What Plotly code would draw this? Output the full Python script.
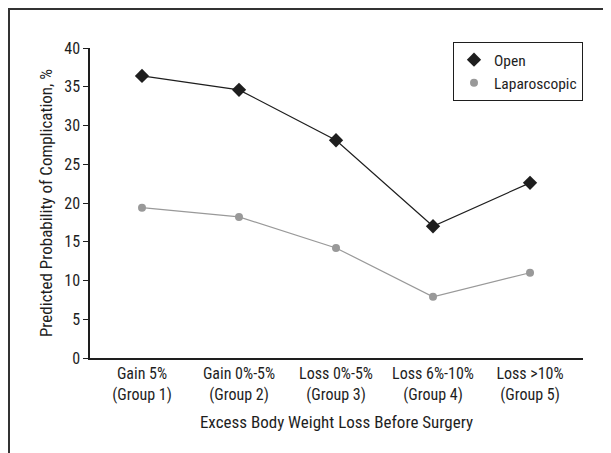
import plotly.graph_objects as go

categories = ["Gain 5%<br>(Group 1)", "Gain 0%-5%<br>(Group 2)", "Loss 0%-5%<br>(Group 3)",
              "Loss 6%-10%<br>(Group 4)", "Loss >10%<br>(Group 5)"]
open_vals = [36.4, 34.6, 28.1, 17.0, 22.6]
lap_vals = [19.4, 18.2, 14.2, 7.9, 11.0]
y_ticks = [0, 5, 10, 15, 20, 25, 30, 35, 40]

FONT = "Liberation Sans Narrow, Arial Narrow, Roboto Condensed, Liberation Sans, Arial, sans-serif"
INK = "#1e1e1e"
GRAY = "#999999"
xi = list(range(len(categories)))

fig = go.Figure()
fig.add_trace(go.Scatter(
    x=xi, y=open_vals, name="Open", mode="lines+markers", showlegend=False,
    line=dict(color=INK, width=1.2),
    marker=dict(symbol="diamond", size=11, color=INK),
))
fig.add_trace(go.Scatter(
    x=xi, y=lap_vals, name="Laparoscopic", mode="lines+markers", showlegend=False,
    line=dict(color=GRAY, width=1.2),
    marker=dict(symbol="circle", size=8, color=GRAY),
))
# legend entries: markers only
fig.add_trace(go.Scatter(
    x=[None], y=[None], name="Open", mode="markers",
    marker=dict(symbol="diamond", size=11, color=INK),
))
fig.add_trace(go.Scatter(
    x=[None], y=[None], name="Laparoscopic", mode="markers",
    marker=dict(symbol="circle", size=8, color=GRAY),
))

fig.update_layout(
    width=603, height=445,
    margin=dict(l=82, r=28, t=40, b=95),
    paper_bgcolor="white", plot_bgcolor="white",
    font=dict(family=FONT, size=16, color=INK),
    showlegend=True,
    legend=dict(
        x=1.0, xanchor="right", y=1.019, yanchor="top",
        bordercolor=INK, borderwidth=1, bgcolor="white",
        font=dict(family=FONT, size=15.5, color=INK),
        itemwidth=30, tracegroupgap=0,
    ),
    xaxis=dict(
        range=[-0.536, 4.546], tickmode="array", tickvals=xi, ticktext=categories,
        showgrid=False, zeroline=False, showline=True, linecolor=INK, linewidth=1.5,
        ticks="", tickfont=dict(size=16),
        title=dict(text="Excess Body Weight Loss Before Surgery", font=dict(size=17), standoff=13),
    ),
    yaxis=dict(
        range=[0, 40], tickmode="array", tickvals=y_ticks,
        showgrid=False, zeroline=False, showline=True, linecolor=INK, linewidth=1.5,
        ticks="outside", ticklen=5, tickcolor=INK, tickwidth=1.2,
        tickfont=dict(size=16),
        title=dict(text="Predicted Probability of Complication, %", font=dict(size=17), standoff=7),
    ),
    shapes=[dict(
        type="rect", xref="paper", yref="paper",
        x0=-0.1643, x1=1.3, y0=-0.6, y1=1.1258,
        line=dict(color="#333333", width=2), fillcolor="rgba(0,0,0,0)", layer="below",
    )],
)

fig.write_html("out.html")
